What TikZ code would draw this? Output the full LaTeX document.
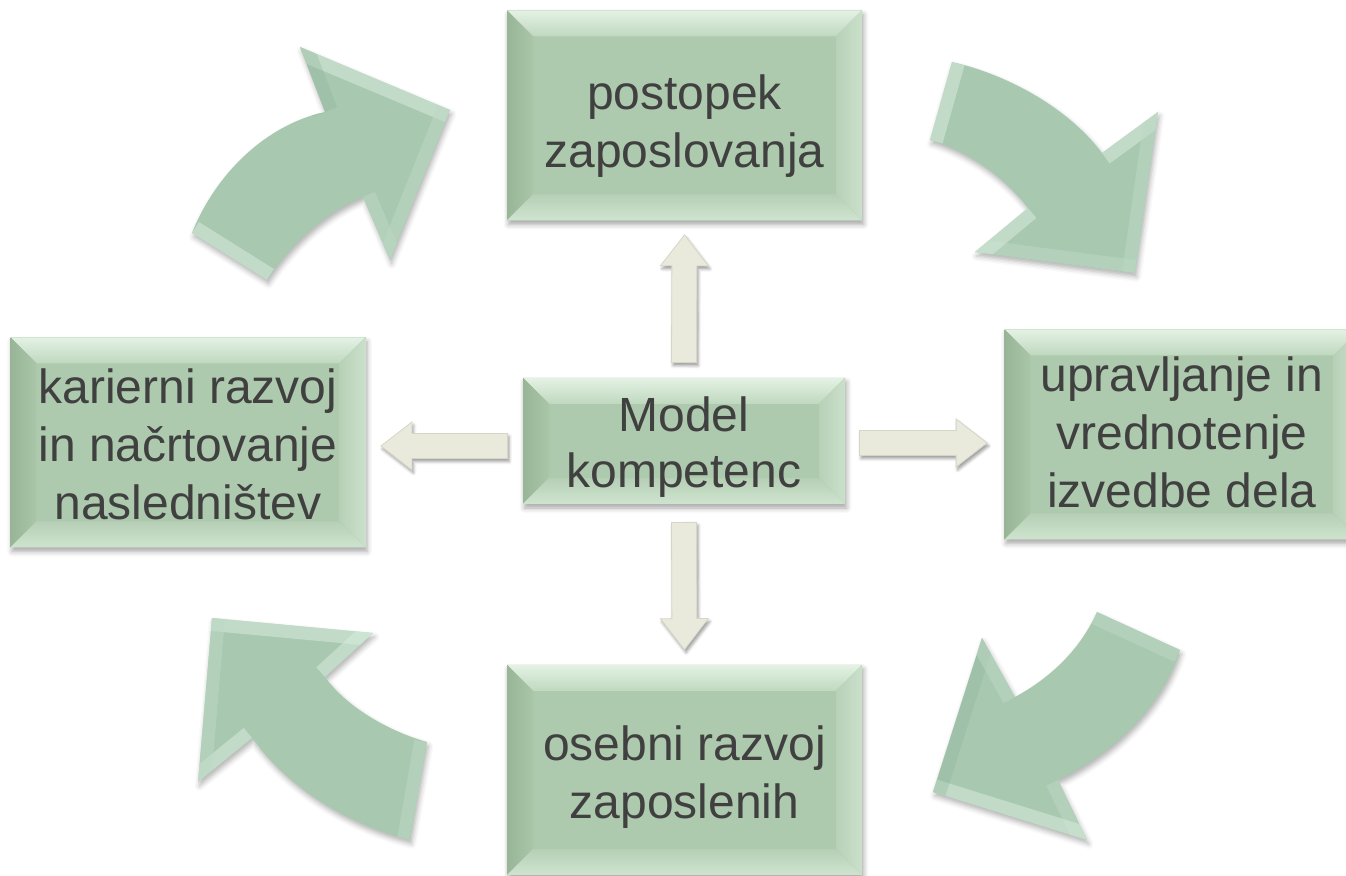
\documentclass[tikz,border=0pt]{standalone}
\usepackage{fontspec}
\setmainfont{Liberation Sans}
\usetikzlibrary{calc,shadows.blur}

% palette
\definecolor{boxface}{HTML}{AECAAE}
\definecolor{bvtopA}{HTML}{E4F2E4}
\definecolor{bvtopB}{HTML}{BFD8BF}
\definecolor{bvleftA}{HTML}{98B598}
\definecolor{bvleftB}{HTML}{A9C6A9}
\definecolor{bvrightA}{HTML}{CBE0CB}
\definecolor{bvrightB}{HTML}{B7D1B7}
\definecolor{bvbotA}{HTML}{CFE4CF}
\definecolor{bvbotB}{HTML}{B5CFB5}
\definecolor{arrowface}{HTML}{A8C8B0}
\definecolor{arrowlight}{HTML}{D6ECDC}
\definecolor{arrowmid}{HTML}{BCD8C4}
\definecolor{arrowdark}{HTML}{93B49C}
\definecolor{ivoryA}{HTML}{E9E9DC}
\definecolor{ivoryB}{HTML}{FBFBF6}
\definecolor{ivoryedge}{HTML}{D6D6C8}
\definecolor{labeltext}{HTML}{404040}

\tikzset{
  bevelbox/.style={rectangle, inner sep=0pt, fill=boxface,
    minimum width=177.5pt, minimum height=105pt,
    blur shadow={shadow xshift=0.8pt, shadow yshift=-2pt,
                 shadow blur radius=2.5pt, shadow opacity=35},
    path picture={
      \path (path picture bounding box.north west) coordinate (bv1)
            (path picture bounding box.north east) coordinate (bv2)
            (path picture bounding box.south east) coordinate (bv3)
            (path picture bounding box.south west) coordinate (bv4);
      \path (bv1) ++(13pt,-13pt) coordinate (bi1)
            (bv2) ++(-13pt,-13pt) coordinate (bi2)
            (bv3) ++(-13pt,13pt) coordinate (bi3)
            (bv4) ++(13pt,13pt) coordinate (bi4);
      \fill[top color=bvtopA, bottom color=bvtopB]
        (bv1) -- (bv2) -- (bi2) -- (bi1) -- cycle;
      \fill[left color=bvleftA, right color=bvleftB]
        (bv1) -- (bi1) -- (bi4) -- (bv4) -- cycle;
      \fill[left color=bvrightB, right color=bvrightA]
        (bv2) -- (bv3) -- (bi3) -- (bi2) -- cycle;
      \fill[top color=bvbotB, bottom color=bvbotA]
        (bv4) -- (bi4) -- (bi3) -- (bv3) -- cycle;
    }},
  boxlabel/.style={align=center, text=labeltext, inner sep=0pt,
    font=\fontsize{24pt}{29pt}\selectfont},
  curvearrow/.style={fill=arrowface,
    blur shadow={shadow xshift=0.8pt, shadow yshift=-2pt,
                 shadow blur radius=2.5pt, shadow opacity=30}},
  bevlight/.style={draw=arrowlight, line width=13pt, opacity=0.55},
  bevmid/.style={draw=arrowmid, line width=13pt, opacity=0.5},
  bevdark/.style={draw=arrowdark, line width=13pt, opacity=0.35},
  blockarrow/.style={draw=ivoryedge, line width=0.4pt,
    blur shadow={shadow xshift=0.8pt, shadow yshift=-1.5pt,
                 shadow blur radius=1.5pt, shadow opacity=40},
    to path={
      let \p1=(\tikztostart), \p2=(\tikztotarget),
          \n1={atan2(\y2-\y1,\x2-\x1)},
          \n2={veclen(\x2-\x1,\y2-\y1)-15.5} in
      ($(\p1)+(\n1+90:6.25pt)$) -- ($(\p1)+(\n1-90:6.25pt)$)
      -- ($(\p1)+(\n1:\n2)+(\n1-90:6.25pt)$)
      -- ($(\p1)+(\n1:\n2)+(\n1-90:12pt)$)
      -- (\p2)
      -- ($(\p1)+(\n1:\n2)+(\n1+90:12pt)$)
      -- ($(\p1)+(\n1:\n2)+(\n1+90:6.25pt)$) -- cycle}},
  vshade/.style={left color=ivoryA, middle color=ivoryB, right color=ivoryA},
  hshade/.style={top color=ivoryA, middle color=ivoryB, bottom color=ivoryA}
}

% outlines of the four curved cycle arrows
\def\arrowNW{(192,233) .. controls (215,175) and (265,125) .. (325,112)
  -- (300,47) -- (450,110) -- (390,260) -- (363,197)
  .. controls (325,212) and (290,245) .. (267,280) -- cycle}
\def\arrowNE{(952,62) .. controls (1010,75) and (1070,110) .. (1102,153)
  -- (1158,112) -- (1135,273) -- (975,252) -- (1028,208)
  .. controls (1005,178) and (970,152) .. (930,140) -- cycle}
\def\arrowSE{(1097,612) -- (1180,650)
  .. controls (1165,700) and (1120,750) .. (1058,780)
  -- (1087,840) -- (933,792) -- (982,638) -- (1015,697)
  .. controls (1050,678) and (1080,650) .. (1097,612) -- cycle}
\def\arrowSW{(212,618) -- (373,633) -- (325,677)
  .. controls (345,705) and (385,730) .. (427,742) -- (410,840)
  .. controls (350,825) and (290,790) .. (252,738)
  -- (198,782) -- cycle}

\begin{document}
\begin{tikzpicture}[x=0.5pt, y=-0.5pt]
\useasboundingbox (0,0) rectangle (1346,876);

% curved arrows of the cycle
\fill[curvearrow] \arrowNW;
\begin{scope}
  \clip \arrowNW;
  \draw[bevlight] (300,47) -- (450,110);
  \draw[bevmid] (450,110) -- (390,260);
  \draw[bevdark] (325,112) -- (300,47);
  \draw[bevmid] (390,260) -- (363,197);
  \draw[bevlight] (192,233) -- (267,280);
\end{scope}

\fill[curvearrow] \arrowNE;
\begin{scope}
  \clip \arrowNE;
  \draw[bevlight] (1102,153) -- (1158,112);
  \draw[bevmid] (1158,112) -- (1135,273);
  \draw[bevmid] (1135,273) -- (975,252);
  \draw[bevlight] (975,252) -- (1028,208);
  \draw[bevlight] (930,140) -- (952,62);
\end{scope}

\fill[curvearrow] \arrowSE;
\begin{scope}
  \clip \arrowSE;
  \draw[bevmid] (1097,612) -- (1180,650);
  \draw[bevmid] (1058,780) -- (1087,840);
  \draw[bevlight] (1087,840) -- (933,792);
  \draw[bevdark] (933,792) -- (982,638);
  \draw[bevmid] (982,638) -- (1015,697);
\end{scope}

\fill[curvearrow] \arrowSW;
\begin{scope}
  \clip \arrowSW;
  \draw[bevlight] (212,618) -- (373,633);
  \draw[bevlight] (373,633) -- (325,677);
  \draw[bevmid] (427,742) -- (410,840);
  \draw[bevlight] (252,738) -- (198,782);
  \draw[bevmid] (198,782) -- (212,618);
\end{scope}

% boxes
\node[bevelbox] (hiring) at (684.5,115.5) {};
\node[bevelbox] (perform) at (1182,434.5) {};
\node[bevelbox] (personal) at (684.5,770) {};
\node[bevelbox] (career) at (188,442.5) {};
\node[bevelbox, minimum width=161pt, minimum height=63pt] (model) at (684,441) {};

% box texts
\node[boxlabel] (hiringtext) at ($(hiring.center)+(0,11)$) {postopek\\zaposlovanja};
\node[boxlabel] (performtext) at ($(perform.center)+(0,-2)$) {upravljanje in\\vrednotenje\\izvedbe dela};
\node[boxlabel] (personaltext) at ($(personal.center)+(0,7)$) {osebni razvoj\\zaposlenih};
\node[boxlabel] (careertext) at ($(career.center)+(0,1.5)$) {karierni razvoj\\in načrtovanje\\nasledništev};
\node[boxlabel, font=\fontsize{24pt}{28pt}\selectfont] (modeltext) at ($(model.center)+(0,6.5)$) {Model\\kompetenc};

% block arrows from the model to each area
\draw[blockarrow, vshade] ($(model.north)+(0,-15)$) to ($(hiring.south)+(0,14)$);
\draw[blockarrow, vshade] ($(model.south)+(0,18)$) to ($(personal.north)+(0,-15)$);
\draw[blockarrow, hshade] ($(model.east)+(14,2)$) to ($(perform.west |- model.east)+(-17,2)$);
\draw[blockarrow, hshade] ($(model.west)+(-15,5)$) to ($(career.east |- model.west)+(15,5)$);
\end{tikzpicture}
\end{document}
